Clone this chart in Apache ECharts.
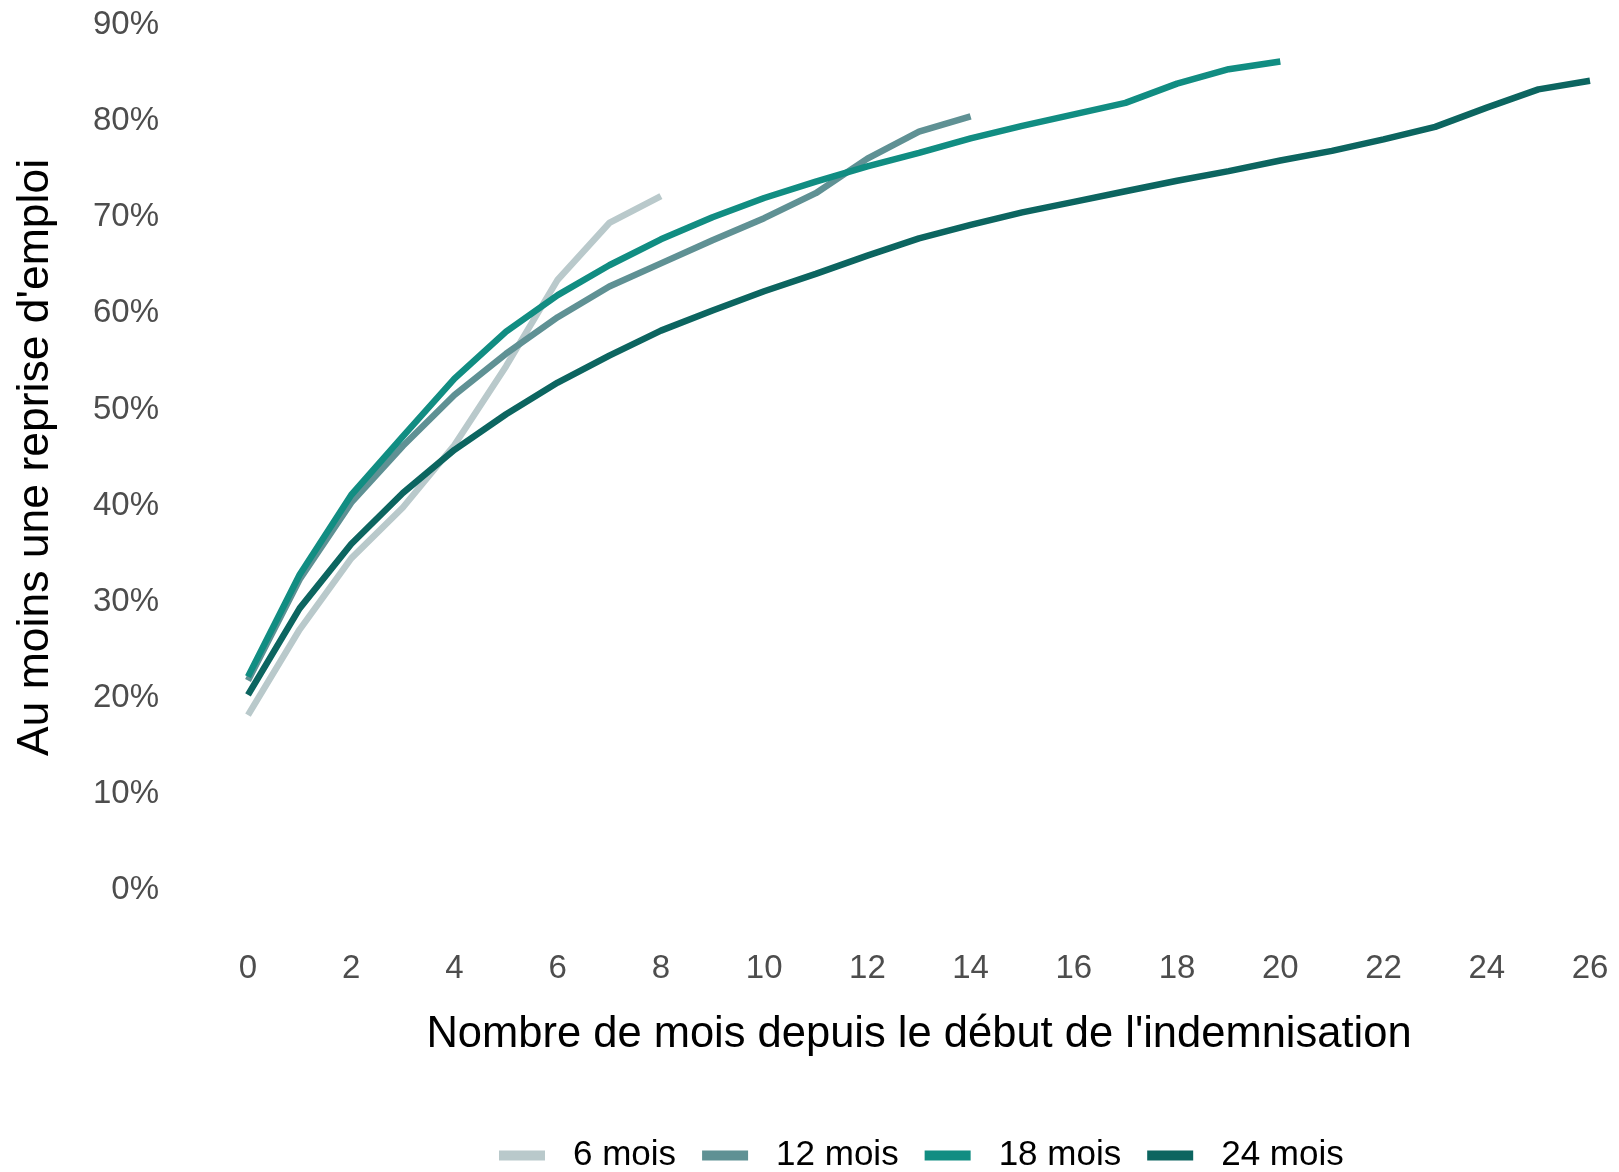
<!DOCTYPE html>
<html>
<head>
<meta charset="utf-8">
<script src="https://cdn.jsdelivr.net/npm/echarts@6/dist/echarts.min.js"></script>
<style>
  html, body { margin: 0; padding: 0; background: #fff; }
  #chart { width: 1619px; height: 1172px; }
</style>
</head>
<body>
<div id="chart"></div>
<script>
// courbes (en %), index = nombre de mois
var seriesNames = ['6 mois', '12 mois', '18 mois', '24 mois'];
var colors = ['#b9c9cb', '#5f9194', '#118d82', '#0c6560'];

var mois6 = [18.2, 27.1, 34.5, 39.8, 46.3, 54.5, 63.5, 69.4, 72.2];
var mois12 = [21.8, 32.3, 40.3, 46.2, 51.5, 55.8, 59.6, 62.8, 65.2, 67.6, 69.9, 72.5, 76.1, 78.9, 80.5];
var mois18 = [22.2, 32.8, 41.1, 47.2, 53.2, 58.1, 61.9, 65.0, 67.7, 70.0, 72.0, 73.7, 75.3, 76.7,
  78.2, 79.5, 80.7, 81.9, 83.9, 85.4, 86.2];
var mois24 = [20.3, 29.3, 36.0, 41.3, 45.8, 49.5, 52.8, 55.6, 58.2, 60.3, 62.3, 64.1, 66.0, 67.8,
  69.2, 70.5, 71.6, 72.7, 73.8, 74.8, 75.9, 76.9, 78.1, 79.4, 81.4, 83.3, 84.2];

var allValues = [mois6, mois12, mois18, mois24];

var font = "'Liberation Sans', Arial, sans-serif";

// points [mois, valeur]
function toPoints(values) {
  return values.map(function (v, i) { return [i, v]; });
}

var myChart = echarts.init(document.getElementById('chart'));

var series = allValues.map(function (values, k) {
  return {
    name: seriesNames[k],
    type: 'line',
    showSymbol: false,
    symbol: 'none',
    smooth: false,
    color: colors[k],
    lineStyle: { width: 6.5, color: colors[k] },
    data: toPoints(values)
  };
});

var option = {
  animation: false,
  backgroundColor: '#ffffff',
  grid: {
    left: 248,
    right: 29,
    top: 25,
    bottom: 282
  },
  legend: {
    left: 494,
    top: 1133,
    icon: 'rect',
    itemWidth: 46,
    itemHeight: 10,
    itemGap: 26,
    data: seriesNames,
    textStyle: {
      fontFamily: font,
      fontSize: 35,
      color: '#000',
      padding: [0, 0, 0, 23]
    }
  },
  xAxis: {
    type: 'value',
    min: 0,
    max: 26,
    interval: 2,
    name: "Nombre de mois depuis le début de l'indemnisation",
    nameLocation: 'middle',
    nameGap: 123,
    nameTextStyle: { fontFamily: font, fontSize: 43.5, color: '#000' },
    axisLine: { show: false },
    axisTick: { show: false },
    splitLine: { show: false },
    axisLabel: {
      margin: 62,
      fontFamily: font,
      fontSize: 33,
      color: '#4d4d4d'
    }
  },
  yAxis: {
    type: 'value',
    min: 0,
    max: 90,
    interval: 10,
    name: "Au moins une reprise d'emploi",
    nameLocation: 'middle',
    nameGap: 190,
    nameTextStyle: { fontFamily: font, fontSize: 44.5, color: '#000' },
    axisLine: { show: false },
    axisTick: { show: false },
    splitLine: { show: false },
    axisLabel: {
      margin: 89,
      fontFamily: font,
      fontSize: 33,
      color: '#4d4d4d',
      padding: [6, 0, 0, 0],
      formatter: '{value}%'
    }
  },
  series: series
};

myChart.setOption(option);
</script>
</body>
</html>
